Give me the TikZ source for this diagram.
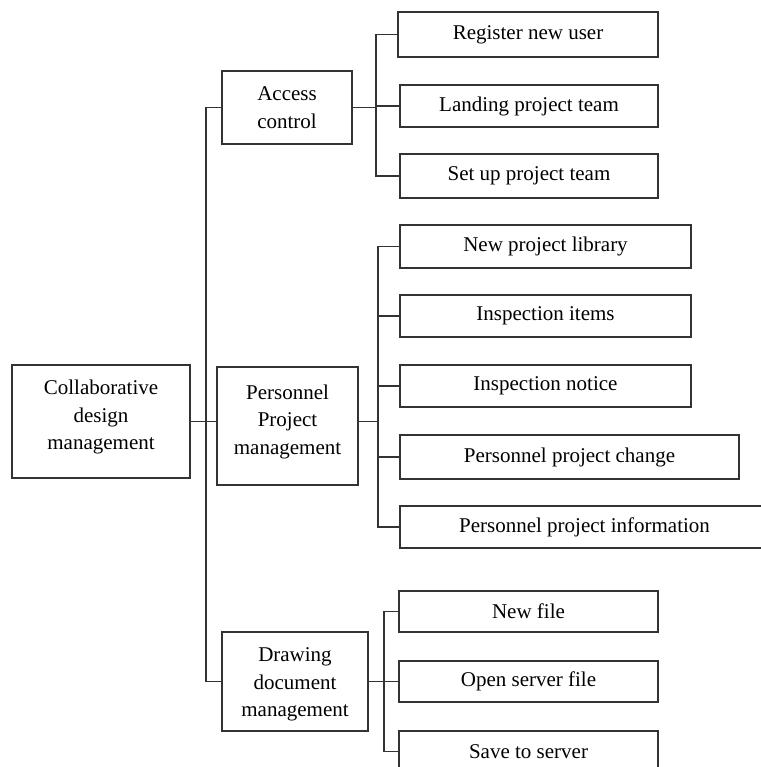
\documentclass[tikz,border=0pt]{standalone}
\usepackage{fontspec}
\setmainfont{Liberation Serif}
\begin{document}
\begin{tikzpicture}[x=1pt,y=-1pt,
  box/.style={draw=black!80, line width=1.3pt, inner sep=0pt, align=center,
    font=\fontsize{21}{27.5}\selectfont, text=black},
  link/.style={draw=black!80, line width=1.3pt}]
\useasboundingbox (0,0) rectangle (760,767);
% level 0
\node[box, minimum width=178pt, minimum height=113pt] (root) at (101,421.5) {Collaborative\\design\\management\rule[-12.6pt]{0pt}{0pt}};
% level 1
\node[box, minimum width=130pt, minimum height=73pt] (acc) at (287,107.5) {Access\\control};
\node[box, minimum width=141pt, minimum height=118pt] (pers) at (287.5,426) {Personnel\\Project\\management\rule[-12.6pt]{0pt}{0pt}};
\node[box, minimum width=146pt, minimum height=99pt] (drw) at (295,681.5) {\rule{0pt}{20.5pt}Drawing\\document\\management};
% level 2: access
\node[box, minimum width=260pt, minimum height=45pt] (reg) at (528,34.5) {Register new user};
\node[box, minimum width=258pt, minimum height=42pt] (land) at (529,106) {Landing project team};
\node[box, minimum width=258pt, minimum height=44pt] (setup) at (529,176) {Set up project team};
% level 2: personnel
\node[box, minimum width=291pt, minimum height=43pt] (npl) at (545.5,246.5) {New project library};
\node[box, minimum width=291pt, minimum height=42pt] (ii) at (545.5,316) {Inspection items};
\node[box, minimum width=291pt, minimum height=42pt] (inot) at (545.5,386) {Inspection notice};
\node[box, minimum width=339pt, minimum height=44pt] (ppc) at (569.5,457) {Personnel project change};
\node[box, minimum width=369pt, minimum height=42pt] (ppi) at (584.5,527) {Personnel project information};
% level 2: drawing
\node[box, minimum width=259pt, minimum height=41pt] (nf) at (528.5,611.5) {New file};
\node[box, minimum width=259pt, minimum height=41pt] (osf) at (528.5,681.5) {Open server file};
\node[box, minimum width=259pt, minimum height=41pt] (sts) at (528.5,751.5) {Save to server};
% trunk coordinates
\coordinate (t) at (206,0);
\coordinate (sa) at (376,0);
\coordinate (sp) at (378,0);
\coordinate (sd) at (384,0);
% main trunk
\draw[link] (root.east) -- (root.east -| pers.west);
\draw[link] (acc.west) -- (acc.west -| t) -- (drw.west -| t) -- (drw.west);
% access branch
\draw[link] (acc.east) -- (acc.east -| sa);
\draw[link] (reg.west) -- (reg.west -| sa) -- (setup.west -| sa) -- (setup.west);
\draw[link] (land.west) -- (land.west -| sa);
% personnel branch
\draw[link] (root.east -| pers.east) -- (root.east -| sp);
\draw[link] (npl.west) -- (npl.west -| sp) -- (ppi.west -| sp) -- (ppi.west);
\draw[link] (ii.west) -- (ii.west -| sp);
\draw[link] (inot.west) -- (inot.west -| sp);
\draw[link] (ppc.west) -- (ppc.west -| sp);
% drawing branch
\draw[link] (drw.east) -- (drw.east -| sd);
\draw[link] (nf.west) -- (nf.west -| sd) -- (sts.west -| sd) -- (sts.west);
\draw[link] (osf.west) -- (osf.west -| sd);
\end{tikzpicture}
\end{document}
